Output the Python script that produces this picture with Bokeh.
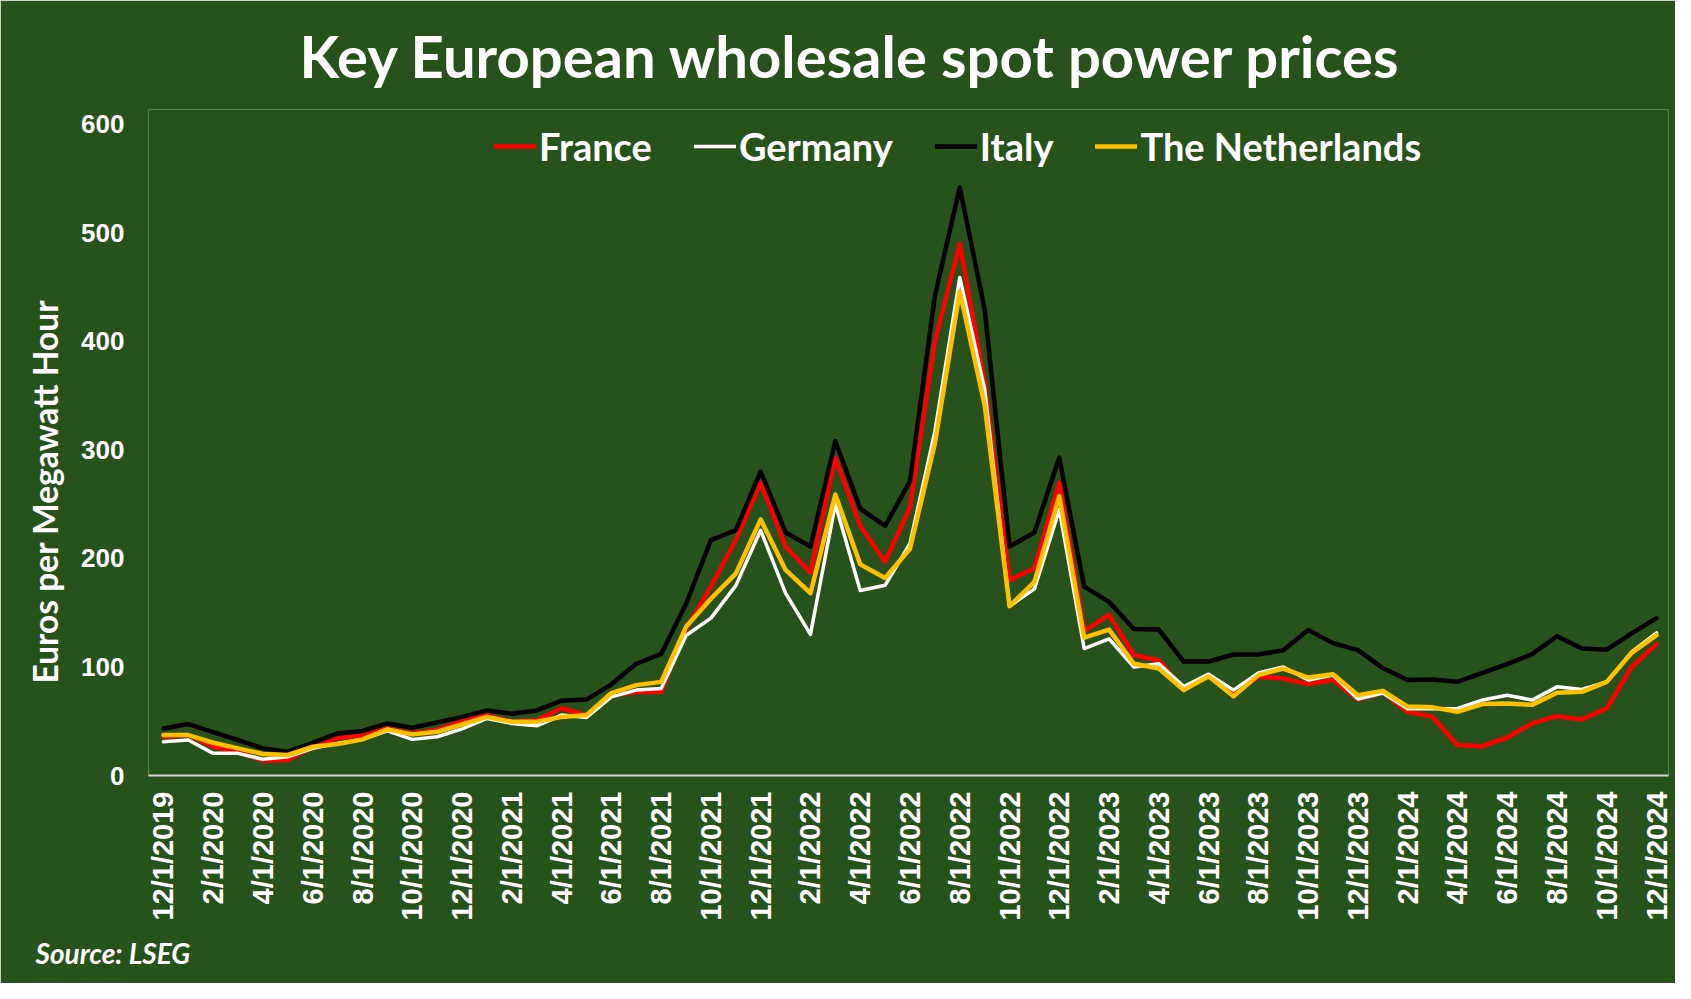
import math
from bokeh.plotting import figure
from bokeh.models import Range1d, FixedTicker, Legend, LegendItem, Title
from bokeh.embed import file_html
from bokeh.resources import INLINE

# ---- data (monthly, 12/1/2019 .. 12/1/2024), euros per MWh ----
month_index = list(range(61))

france = [35.7, 37.3, 26.5, 22.0, 13.6, 14.3, 26.5, 34.2, 37.3, 43.4, 38.8, 42.0,
          50.0, 55.7, 49.5, 51.0, 62.0, 55.7, 74.0, 77.0, 77.0, 135.0, 174.0, 217.0,
          270.0, 211.0, 187.0, 293.0, 230.0, 197.0, 247.0, 400.0, 490.0, 362.0, 180.0, 191.0,
          270.0, 133.0, 148.0, 111.0, 106.0, 80.0, 92.5, 75.5, 91.0, 89.4, 84.2, 88.0,
          70.0, 76.5, 58.7, 54.0, 28.0, 27.0, 35.0, 48.0, 54.7, 51.7, 62.0, 100.0, 121.0]

germany = [31.0, 32.7, 20.4, 20.4, 15.0, 17.3, 25.0, 29.6, 33.3, 41.2, 33.3, 35.7,
           43.0, 52.6, 48.0, 45.8, 55.7, 53.5, 72.5, 78.7, 80.2, 129.0, 145.0, 175.0,
           226.0, 168.0, 130.0, 250.0, 170.5, 175.3, 214.0, 317.0, 459.0, 356.0, 156.0, 172.0,
           245.0, 117.0, 126.0, 100.0, 103.0, 82.0, 93.4, 78.7, 94.6, 100.0, 88.0, 92.5,
           70.5, 76.0, 61.5, 61.5, 61.8, 69.5, 74.0, 69.5, 81.7, 79.3, 86.3, 114.0, 131.4]

italy = [43.4, 47.4, 40.0, 32.5, 25.0, 22.0, 30.0, 38.8, 41.0, 48.0, 44.0, 49.0,
         54.0, 60.0, 57.0, 60.0, 69.0, 70.0, 84.0, 103.0, 112.0, 158.0, 217.0, 226.0,
         280.0, 224.0, 211.0, 308.0, 246.0, 230.0, 271.0, 442.0, 542.0, 430.0, 211.0, 224.0,
         293.0, 174.0, 160.0, 135.0, 134.5, 105.0, 105.0, 111.5, 111.5, 115.5, 134.0, 122.0,
         115.5, 99.0, 88.0, 88.5, 86.3, 94.6, 102.6, 111.8, 128.3, 117.0, 116.0, 131.0, 145.0]

netherlands = [37.3, 37.3, 30.2, 25.0, 19.8, 18.9, 26.5, 29.0, 33.3, 42.5, 37.9, 40.3,
               47.0, 54.0, 49.5, 49.5, 54.0, 55.7, 76.0, 83.3, 86.3, 137.0, 163.0, 186.0,
               236.0, 189.5, 168.0, 259.0, 194.6, 182.0, 209.0, 306.0, 446.0, 341.5, 156.0, 178.5,
               257.6, 127.0, 134.5, 103.0, 98.6, 78.7, 91.5, 73.0, 92.5, 98.6, 90.3, 93.4,
               74.0, 78.0, 63.5, 62.8, 58.7, 65.8, 66.4, 65.1, 76.2, 77.1, 86.3, 113.0, 129.3]

series_names = ["France", "Germany", "Italy", "The Netherlands"]
series_colors = ["#FF0000", "#FFFFFF", "#000000", "#FFC000"]

tick_labels = ["12/1/2019", "2/1/2020", "4/1/2020", "6/1/2020", "8/1/2020", "10/1/2020",
               "12/1/2020", "2/1/2021", "4/1/2021", "6/1/2021", "8/1/2021", "10/1/2021",
               "12/1/2021", "2/1/2022", "4/1/2022", "6/1/2022", "8/1/2022", "10/1/2022",
               "12/1/2022", "2/1/2023", "4/1/2023", "6/1/2023", "8/1/2023", "10/1/2023",
               "12/1/2023", "2/1/2024", "4/1/2024", "6/1/2024", "8/1/2024", "10/1/2024",
               "12/1/2024"]
tick_positions = month_index[::2]

y_ticks = [0, 100, 200, 300, 400, 500, 600]

BG = "#28521B"
TITLE_FONT = "Lato"
AXIS_FONT = "Liberation Sans"

p = figure(width=1675, height=983, output_backend="svg", toolbar_location=None,
           x_range=Range1d(-0.6, 60.48), y_range=Range1d(0, 613.8),
           min_border_left=148, min_border_right=7, min_border_top=109, min_border_bottom=207)
p.background_fill_color = BG
p.border_fill_color = BG
p.outline_line_color = None
p.xgrid.grid_line_color = None
p.ygrid.grid_line_color = None

# title
p.title.text = "Key European wholesale spot power prices"
p.title.align = "left"
p.title.offset = 151
p.title.vertical_align = "top"
p.title.standoff = 36
p.title.text_font = TITLE_FONT
p.title.text_font_style = "bold"
p.title.text_font_size = "58px"
p.title.text_color = "#FFFFFF"

# x axis
xa = p.xaxis[0]
xa.ticker = FixedTicker(ticks=tick_positions)
xa.major_label_overrides = {pos: lab for pos, lab in zip(tick_positions, tick_labels)}
xa.major_label_orientation = math.pi / 2
xa.major_label_text_font = AXIS_FONT
xa.major_label_text_font_style = "bold"
xa.major_label_text_font_size = "29px"
xa.major_label_text_color = "#FFFFFF"
xa.major_label_standoff = 10
xa.axis_line_color = "#D9D9D9"
xa.axis_line_width = 2
xa.major_tick_line_color = None
xa.minor_tick_line_color = None

# y axis
ya = p.yaxis[0]
ya.ticker = FixedTicker(ticks=y_ticks)
ya.major_label_text_font = AXIS_FONT
ya.major_label_text_font_style = "bold"
ya.major_label_text_font_size = "26px"
ya.major_label_text_color = "#FFFFFF"
ya.major_label_standoff = 18
ya.axis_line_color = None
ya.major_tick_line_color = None
ya.minor_tick_line_color = None

renderers = []
for name, ys, col in zip(series_names, [france, germany, italy, netherlands], series_colors):
    lw = 3.5 if col == "#FFFFFF" else 4.5
    r = p.line(month_index, ys, line_color=col, line_width=lw, line_join="round", line_cap="round")
    renderers.append(r)

legend = Legend(items=[LegendItem(label=n, renderers=[r]) for n, r in zip(series_names, renderers)],
                orientation="horizontal", location=(346, 606),
                glyph_width=42, glyph_height=30, label_standoff=3, spacing=42,
                padding=0, margin=0,
                background_fill_alpha=0, border_line_color=None,
                label_text_font=TITLE_FONT, label_text_font_style="bold",
                label_text_font_size="38px", label_text_color="#FFFFFF")
p.add_layout(legend, "center")

ylabel = Title(text="Euros per Megawatt Hour", align="left", offset=92,
               standoff=28, vertical_align="bottom",
               text_font=TITLE_FONT, text_font_style="bold", text_font_size="33.5px",
               text_color="#FFFFFF")
p.add_layout(ylabel, "left")

source = Title(text="Source: LSEG", align="left", offset=-113,
               standoff=24, vertical_align="top",
               text_font=TITLE_FONT, text_font_style="bold italic", text_font_size="28px",
               text_color="#FFFFFF")
p.add_layout(source, "below")

open("out.html", "w").write(file_html(p, INLINE))
